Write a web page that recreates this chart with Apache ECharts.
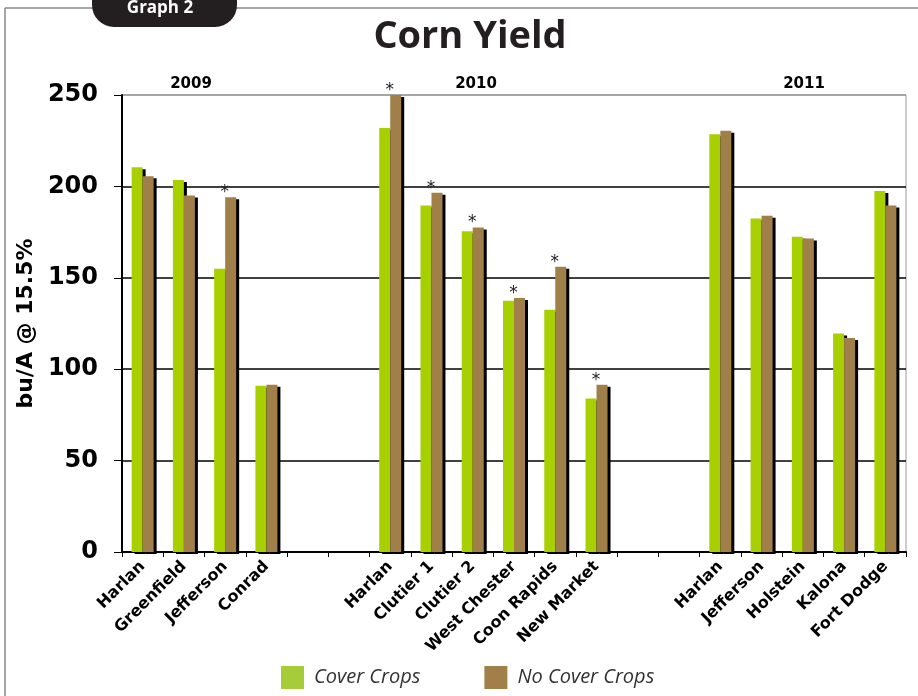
<!DOCTYPE html>
<html>
<head>
<meta charset="utf-8">
<script src="https://cdn.jsdelivr.net/npm/echarts@6/dist/echarts.min.js"></script>
<style>
html,body{margin:0;padding:0;background:#fff;}
#chart{width:918px;height:696px;}
</style>
</head>
<body>
<div id="chart"></div>
<script>
const categories = ['Harlan','Greenfield','Jefferson','Conrad','','',
  'Harlan','Clutier 1','Clutier 2','West Chester','Coon Rapids','New Market','','',
  'Harlan','Jefferson','Holstein','Kalona','Fort Dodge'];
const coverCrops = [210.5,203.5,155,91,null,null,232,189.5,175.5,137.5,132.5,84,null,null,228.5,182.5,172.5,119.5,197.5];
const noCoverCrops = [205.5,195,194,91.5,null,null,250,196.5,177.5,139,156,91.5,null,null,230.5,184,171.5,117,189.5];
const significant = [false,false,true,false,false,false,true,true,true,true,true,true,false,false,false,false,false,false,false];
const yearLabels = ['2009','2010','2011'];
const yTicks = [0,50,100,150,200,250];

const chart = echarts.init(document.getElementById('chart'));
const barShadow = {shadowColor:'#000', shadowBlur:0, shadowOffsetX:3, shadowOffsetY:2};
const option = {
  backgroundColor:'#fff',
  animation:false,
  title:{
    text:'Corn Yield', left:465, top:13, textAlign:'center',
    textStyle:{fontFamily:'Open Sans', fontWeight:'bold', fontSize:38, color:'#231f20'}
  },
  graphic:[
    {type:'line', shape:{x1:5,y1:8,x2:918,y2:8}, style:{stroke:'#888',lineWidth:1.5}, z:0},
    {type:'line', shape:{x1:5,y1:8,x2:5,y2:696}, style:{stroke:'#888',lineWidth:1.5}, z:0},
    {type:'rect', shape:{x:92,y:-20,width:145,height:47,r:22}, style:{fill:'#231f20'}, z:1},
    {type:'text', x:160, y:0, style:{text:'Graph 2', fill:'#fff', font:'bold 17px "Open Sans"', textAlign:'center'}, z:2},
    {type:'text', x:191, y:77, style:{text:yearLabels[0], fill:'#000', font:'bold 15px "DejaVu Sans"', textAlign:'center'}},
    {type:'text', x:476, y:77, style:{text:yearLabels[1], fill:'#000', font:'bold 15px "DejaVu Sans"', textAlign:'center'}},
    {type:'text', x:804, y:77, style:{text:yearLabels[2], fill:'#000', font:'bold 15px "DejaVu Sans"', textAlign:'center'}}
  ],
  legend:{
    left:276, top:661, itemWidth:23, itemHeight:23, itemGap:64, icon:'rect',
    textStyle:{fontFamily:'Open Sans', fontStyle:'italic', fontSize:20, color:'#333', padding:[0,0,0,5]},
    data:[
      {name:'Cover Crops', itemStyle:{color:'#a6cc3a', shadowOffsetX:0, shadowOffsetY:0}},
      {name:'No Cover Crops', itemStyle:{color:'#a08048', shadowOffsetX:0, shadowOffsetY:0}}
    ]
  },
  grid:{left:122, right:12, top:95, bottom:144, show:true, borderColor:'#999', borderWidth:1, backgroundColor:'#fff'},
  xAxis:{
    type:'category', data:categories,
    axisLine:{lineStyle:{color:'#000', width:2}},
    axisTick:{show:true, length:5, lineStyle:{color:'#000'}, alignWithLabel:false, interval:0},
    axisLabel:{interval:0, rotate:45, margin:12, fontFamily:'DejaVu Sans', fontWeight:'bold', fontSize:16, color:'#000'}
  },
  yAxis:{
    type:'value', min:0, max:250, interval:50,
    axisLine:{show:true, lineStyle:{color:'#000', width:2}},
    axisTick:{show:true, length:8, lineStyle:{color:'#000'}},
    axisLabel:{margin:24, fontFamily:'DejaVu Sans', fontWeight:'bold', fontSize:24, color:'#000',
      formatter: v => yTicks.indexOf(v) >= 0 ? String(v) : ''},
    splitLine:{show:true, lineStyle:{color:['#000','#000','#000','#000','#000','#999'], width:1.5}},
    name:'bu/A @ 15.5%', nameLocation:'middle', nameGap:74, nameRotate:90,
    nameTextStyle:{fontFamily:'DejaVu Sans', fontWeight:'bold', fontSize:22, color:'#000'}
  },
  series:[
    {
      name:'Cover Crops', type:'bar', data:coverCrops, barWidth:11, barGap:'0%',
      itemStyle:Object.assign({color:'#a8d000'}, barShadow)
    },
    {
      name:'No Cover Crops', type:'bar', data:noCoverCrops, barWidth:11,
      itemStyle:Object.assign({color:'#a08048'}, barShadow),
      label:{
        show:true, position:'top', distance:0, offset:[-6,4],
        fontFamily:'DejaVu Sans', fontSize:17, color:'#222',
        formatter: p => significant[p.dataIndex] ? '*' : ''
      }
    }
  ]
};
chart.setOption(option);
</script>
</body>
</html>
